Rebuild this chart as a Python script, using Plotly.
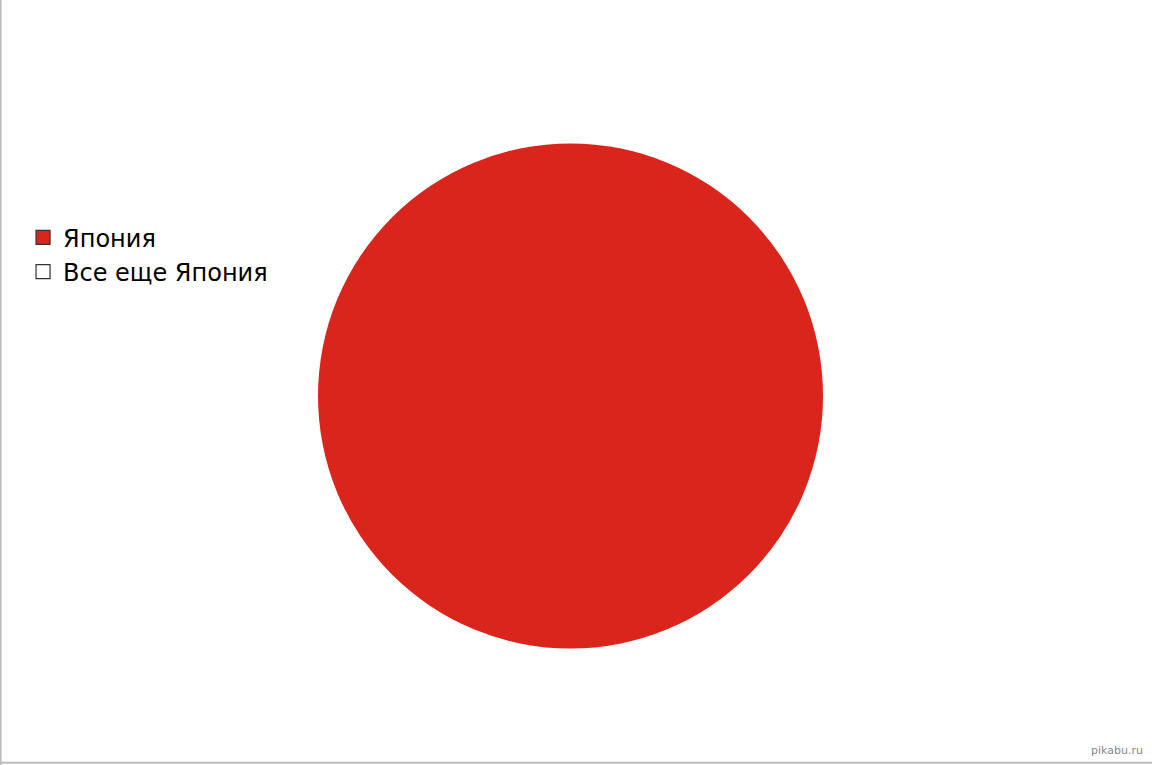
import plotly.graph_objects as go

labels = ['Япония', 'Все еще Япония']
values = [100, 0]
colors = ['#DA251D', '#FFFFFF']

fig = go.Figure()
fig.add_trace(go.Pie(
    labels=labels,
    values=values,
    sort=False,
    direction='clockwise',
    textinfo='none',
    hoverinfo='label+percent',
    marker=dict(colors=colors, line=dict(width=0)),
    domain=dict(x=[318 / 1152, 823 / 1152], y=[116 / 765, 622 / 765]),
    showlegend=False,
))

# legend entries drawn as bordered squares like the original
for lab, col in zip(labels, colors):
    fig.add_trace(go.Scatter(
        x=[None], y=[None], mode='markers', name=lab,
        marker=dict(symbol='square', size=14, color=col,
                    line=dict(color='#333333', width=1.2)),
        showlegend=True, hoverinfo='skip',
    ))

fig.update_layout(
    width=1152,
    height=765,
    margin=dict(l=0, r=0, t=0, b=0),
    paper_bgcolor='white',
    plot_bgcolor='white',
    font=dict(family='DejaVu Sans', size=24, color='#000000'),
    xaxis=dict(visible=False),
    yaxis=dict(visible=False),
    legend=dict(
        x=0.02, y=0.667, xanchor='left', yanchor='middle',
        font=dict(size=24),
        tracegroupgap=0,
    ),
    shapes=[
        dict(type='line', xref='paper', yref='paper', x0=0.0005, x1=0.0005, y0=0, y1=1,
             line=dict(color='#BBBBBB', width=2)),
        dict(type='line', xref='paper', yref='paper', x0=0, x1=1, y0=0.003, y1=0.003,
             line=dict(color='#BBBBBB', width=2)),
    ],
    annotations=[
        dict(text='pikabu.ru', xref='paper', yref='paper', x=0.994, y=0.008,
             xanchor='right', yanchor='bottom', showarrow=False,
             font=dict(size=11, color='#888888', family='DejaVu Sans')),
    ],
)

fig.write_html("out.html", config={'displayModeBar': False},
               post_script="document.body.style.margin='0';")
